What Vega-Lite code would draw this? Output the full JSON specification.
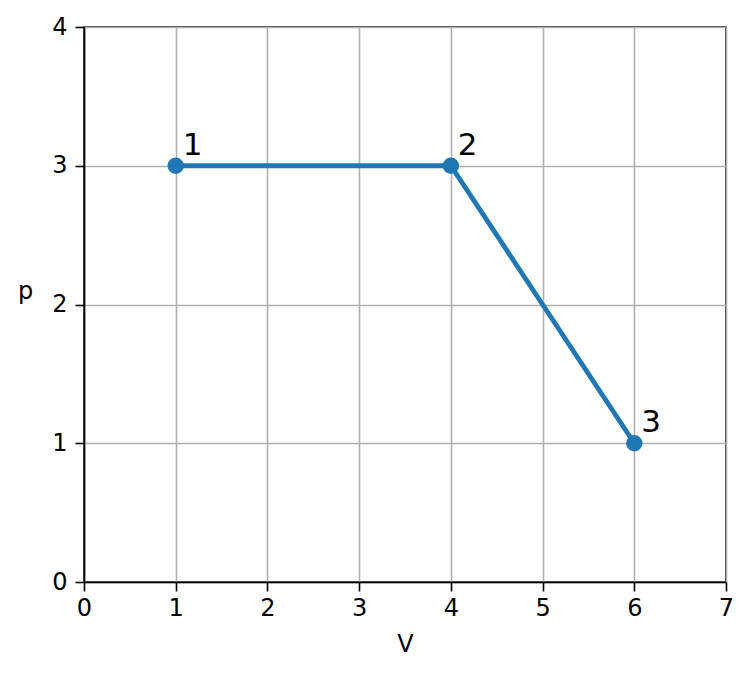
{
  "$schema": "https://vega.github.io/schema/vega-lite/v6.json",
  "autosize": "none",
  "width": 642,
  "height": 555,
  "padding": {"left": 84, "top": 27, "right": 26, "bottom": 93},
  "background": "white",
  "data": {
    "values": [
      {"V": 1, "p": 3, "label": "1"},
      {"V": 4, "p": 3, "label": "2"},
      {"V": 6, "p": 1, "label": "3"}
    ]
  },
  "encoding": {
    "x": {
      "field": "V",
      "type": "quantitative",
      "scale": {"domain": [0, 7], "nice": false, "zero": false},
      "axis": {
        "values": [0, 1, 2, 3, 4, 5, 6, 7],
        "title": "V",
        "labelFont": "DejaVu Sans",
        "labelFontSize": 24,
        "titleFont": "DejaVu Sans",
        "titleFontSize": 24,
        "labelPadding": 5,
        "titlePadding": 12
      }
    },
    "y": {
      "field": "p",
      "type": "quantitative",
      "scale": {"domain": [0, 4], "nice": false, "zero": false},
      "axis": {
        "values": [0, 1, 2, 3, 4],
        "title": "p",
        "labelFont": "DejaVu Sans",
        "labelFontSize": 24,
        "titleFont": "DejaVu Sans",
        "titleFontSize": 24,
        "labelPadding": 8,
        "titleAngle": 0,
        "titleX": -59,
        "titleY": 271,
        "titleAlign": "center",
        "titleBaseline": "alphabetic"
      }
    }
  },
  "layer": [
    {"mark": {"type": "line", "color": "#1f77b4", "strokeWidth": 4.8}},
    {"mark": {"type": "point", "filled": true, "color": "#1f77b4", "size": 270, "opacity": 1}},
    {
      "mark": {"type": "text", "align": "left", "baseline": "alphabetic", "dx": 7, "dy": -11, "fontSize": 31, "font": "DejaVu Sans", "color": "black"},
      "encoding": {"text": {"field": "label"}}
    }
  ],
  "config": {
    "view": {"stroke": "black", "strokeWidth": 1.6},
    "axis": {
      "domainColor": "black",
      "domainWidth": 1.6,
      "tickColor": "black",
      "tickWidth": 1.6,
      "tickSize": 9,
      "labelColor": "black",
      "labelFlush": false,
      "labelOverlap": false,
      "titleFontWeight": "normal",
      "titleColor": "black",
      "grid": true,
      "gridColor": "#b0b0b0",
      "gridWidth": 1.6
    }
  }
}
